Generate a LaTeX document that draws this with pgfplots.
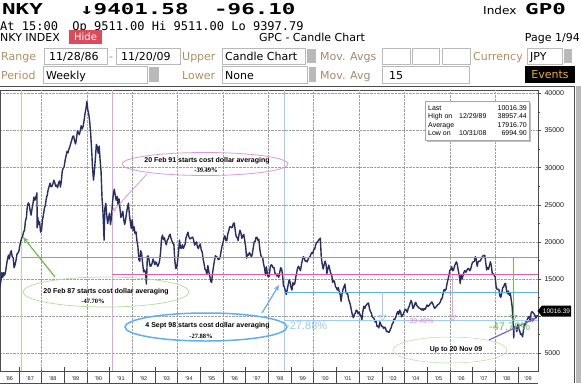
\documentclass[border=0pt]{standalone}
\usepackage{fontspec}
\setmainfont{Liberation Sans}
\newfontfamily\mono{DejaVu Sans Mono}
\newfontfamily\dv{DejaVu Sans}
\newfontfamily\lserif{Liberation Serif}
\usepackage{graphicx}
\usepackage{pgfplots}
\usepackage{pgfplotstable}
\pgfplotsset{compat=1.18}
\usetikzlibrary{arrows.meta}

\definecolor{navy}{RGB}{40,45,100}
\definecolor{cgreen}{RGB}{110,190,80}
\definecolor{cgreenl}{RGB}{175,222,155}
\definecolor{cpink}{RGB}{222,95,175}
\definecolor{cpinkl}{RGB}{225,165,220}
\definecolor{cblue}{RGB}{95,175,235}
\definecolor{cbluel}{RGB}{160,205,240}
\definecolor{cpurple}{RGB}{125,95,200}
\definecolor{tanc}{RGB}{180,140,95}
\definecolor{hidered}{RGB}{220,75,90}
\definecolor{evorange}{RGB}{240,170,40}

\pgfplotstableread[row sep=\\]{
m v\\
0 13900\\ 0.5 14700\\ 1 15860\\ 1.5 15200\\ 2 15830\\ 2.5 15500\\ 3 16000\\ 3.5 16900\\ 4 17650\\ 4.5 18200\\ 5 17690\\ 5.5 18500\\ 6 18790\\ 6.5 18000\\ 7 17850\\ 7.5 16500\\ 8 16910\\ 8.5 17500\\ 9 18330\\ 9.5 18500\\ 10 18700\\
10.5 19500\\ 11 20020\\ 11.5 20500\\ 12 20770\\ 12.5 21300\\ 13 21570\\ 13.5 22800\\ 14 23270\\ 14.5 24800\\ 15 25250\\ 15.5 25000\\ 16 24180\\ 16.5 23600\\ 17 24490\\ 17.5 25200\\ 18 26030\\ 18.5 25600\\ 19 26010\\ 19.6 26600\\ 19.7 21900\\ 20 23330\\ 20.5 22300\\ 21 22690\\ 21.5 21300\\ 22 21560\\
22.5 22900\\ 23 23620\\ 23.5 24500\\ 24 24890\\ 24.5 25800\\ 25 26260\\ 25.5 27000\\ 26 27440\\ 26.5 27900\\ 27 27420\\ 27.5 27500\\ 28 27770\\ 28.5 28300\\ 29 28000\\ 29.5 27500\\ 30 27640\\ 30.5 27300\\ 31 27920\\ 31.5 28200\\ 32 27380\\ 32.5 28200\\ 33 29580\\ 33.5 29900\\ 34 30160\\
34.5 31000\\ 35 31580\\ 35.5 32200\\ 36 31990\\ 36.5 32500\\ 37 32840\\ 37.5 33300\\ 38 33710\\ 38.5 34200\\ 39 34270\\ 39.5 33600\\ 40 33180\\ 40.5 33900\\ 41 34950\\ 41.5 34700\\ 42 34430\\ 42.5 35000\\ 43 35640\\ 43.5 35200\\ 44 35550\\ 44.5 36300\\ 45 37270\\ 45.5 37900\\ 46 38920\\
46.5 37800\\ 47 37190\\ 47.5 36200\\ 48 34590\\ 48.5 32500\\ 49 29980\\ 49.5 28300\\ 50 29590\\ 50.5 31200\\ 51 33130\\ 51.5 32800\\ 52 31940\\ 52.5 32900\\ 53 31040\\ 53.5 29500\\ 54 25980\\ 54.5 24000\\ 55 20980\\ 55.1 20220\\ 55.5 24500\\ 56 25190\\ 56.5 23600\\ 57 22450\\ 57.5 23300\\ 58 23850\\
58.5 22300\\ 59 23290\\ 59.5 25100\\ 60 26410\\ 60.5 27100\\ 61 26290\\ 61.5 25600\\ 62 26110\\ 62.5 25000\\ 63 25790\\ 63.5 24500\\ 64 23290\\ 64.5 23600\\ 65 24120\\ 65.5 23000\\ 66 22340\\ 66.5 23000\\ 67 23920\\ 67.5 24700\\ 68 25220\\ 68.5 23600\\ 69 22690\\ 69.5 21800\\ 70 22980\\
70.5 21500\\ 71 22020\\ 71.5 21100\\ 72 21340\\ 72.5 20100\\ 73 19350\\ 73.5 17600\\ 74 17390\\ 74.5 18800\\ 75 18350\\ 75.5 17100\\ 76 15950\\ 76.5 16200\\ 77 15910\\ 77.5 14310\\ 78 18060\\ 78.5 18100\\ 79 17400\\ 79.5 16700\\ 80 16770\\ 80.5 17100\\ 81 17680\\ 81.5 17300\\ 82 16920\\
82.5 17300\\ 83 17020\\ 83.5 16700\\ 84 17000\\ 84.5 17500\\ 85 18600\\ 85.5 20400\\ 86 20920\\ 86.5 20300\\ 87 20550\\ 87.5 20000\\ 88 19590\\ 88.5 20200\\ 89 20380\\ 89.5 20800\\ 90 21030\\ 90.5 20500\\ 91 20100\\ 91.5 19800\\ 92 19700\\ 92.5 17600\\ 93 16410\\ 93.5 16500\\ 94 17420\\
94.5 18600\\ 95 20230\\ 95.5 19200\\ 96 19110\\ 96.5 19600\\ 97 19110\\ 97.5 19400\\ 98 19730\\ 98.5 20600\\ 99 20970\\ 99.5 21300\\ 100 20640\\ 100.5 20400\\ 101 20450\\ 101.5 20600\\ 102 20630\\ 102.5 20200\\ 103 19560\\ 103.5 19800\\ 104 19990\\ 104.5 19300\\ 105 19080\\ 105.5 19500\\ 106 19720\\
106.5 18900\\ 107 18650\\ 107.5 17700\\ 108 17050\\ 108.5 16300\\ 109 16140\\ 109.5 15600\\ 110 16810\\ 110.5 16000\\ 111 15440\\ 111.5 14700\\ 112 14520\\ 112.5 15800\\ 113 16680\\ 113.5 17500\\ 114 18120\\ 114.5 18000\\ 115 17910\\ 115.5 17600\\ 116 17650\\ 116.5 17900\\ 117 18740\\ 117.5 19400\\ 118 19870\\
118.5 20500\\ 119 20810\\ 119.5 20200\\ 120 20130\\ 120.5 21000\\ 121 21410\\ 121.5 22000\\ 122 22040\\ 122.5 21900\\ 123 21960\\ 123.5 22500\\ 124 22530\\ 124.5 21500\\ 125 20690\\ 125.5 20600\\ 126 20170\\ 126.5 21000\\ 127 21560\\ 127.5 21200\\ 128 20470\\ 128.5 20800\\ 129 21020\\ 129.5 20200\\ 130 19360\\
130.5 17800\\ 131 18330\\ 131.5 18200\\ 132 18560\\ 132.5 18300\\ 133 18000\\ 133.5 18300\\ 134 19150\\ 134.5 20000\\ 135 20070\\ 135.5 20600\\ 136 20600\\ 136.5 20200\\ 137 20330\\ 137.5 19000\\ 138 18230\\ 138.5 17900\\ 139 17890\\ 139.5 17000\\ 140 16460\\ 140.5 15500\\ 141 16630\\ 141.5 15600\\ 142 15260\\
142.5 15400\\ 143 16630\\ 143.5 16900\\ 144 16830\\ 144.5 16500\\ 145 16530\\ 145.5 15800\\ 146 15640\\ 146.5 15400\\ 147 15670\\ 147.5 15200\\ 148 15830\\ 148.5 16500\\ 149 16380\\ 149.5 15600\\ 150 14110\\ 150.5 13900\\ 151 13410\\ 151.5 12900\\ 152 13560\\ 152.5 14200\\ 153 14880\\ 153.5 14600\\ 154 13840\\
154.5 13500\\ 155 14500\\ 155.5 14200\\ 156 14370\\ 156.5 15200\\ 157 15840\\ 157.5 16500\\ 158 16700\\ 158.5 16400\\ 159 16110\\ 159.5 16900\\ 160 17530\\ 160.5 18000\\ 161 17860\\ 161.5 17400\\ 162 17440\\ 162.5 17300\\ 163 17610\\ 163.5 17900\\ 164 17940\\ 164.5 18300\\ 165 18560\\ 165.5 18400\\ 166 18930\\
166.5 19000\\ 167 19540\\ 167.5 19900\\ 168 19960\\ 168.5 20200\\ 169 20340\\ 169.5 20500\\ 170 17970\\ 170.5 17000\\ 171 16330\\ 171.5 16900\\ 172 17410\\ 172.5 17000\\ 173 15730\\ 173.5 16400\\ 174 16860\\ 174.5 16300\\ 175 15750\\ 175.5 15600\\ 176 14540\\ 176.5 14800\\ 177 14650\\ 177.5 14000\\ 178 13790\\
178.5 13500\\ 179 13840\\ 179.5 13300\\ 180 12880\\ 180.5 12000\\ 181 12999\\ 181.5 13600\\ 182 13930\\ 182.5 14300\\ 183 13260\\ 183.5 13000\\ 184 12970\\ 184.5 12200\\ 185 11860\\ 185.5 11400\\ 186 10710\\ 186.5 10100\\ 187 9770\\ 187.5 10200\\ 188 10370\\ 188.5 10800\\ 189 10700\\ 189.5 10300\\ 190 10540\\
190.5 10200\\ 191 9990\\ 191.5 9500\\ 192 10590\\ 192.5 11300\\ 193 11020\\ 193.5 11400\\ 194 11490\\ 194.5 11700\\ 195 11760\\ 195.5 11000\\ 196 10620\\ 196.5 10400\\ 197 9880\\ 197.5 9800\\ 198 9620\\ 198.5 9200\\ 199 9380\\ 199.5 8600\\ 200 8640\\ 200.5 8400\\ 201 9220\\ 201.5 8900\\ 202 8580\\
202.5 8600\\ 203 8340\\ 203.5 8500\\ 204 8360\\ 204.5 7900\\ 205 7970\\ 205.5 7800\\ 206 7830\\ 206.5 8200\\ 207 8420\\ 207.5 8900\\ 208 9080\\ 208.5 9600\\ 209 9560\\ 209.5 9900\\ 210 10340\\ 210.5 10600\\ 211 10220\\ 211.5 10800\\ 212 10560\\ 212.5 9900\\ 213 10100\\ 213.5 10300\\ 214 10680\\
214.5 10900\\ 215 10780\\ 215.5 10500\\ 216 11040\\ 216.5 11300\\ 217 11720\\ 217.5 12100\\ 218 11760\\ 218.5 11000\\ 219 11240\\ 219.5 11600\\ 220 11860\\ 220.5 11400\\ 221 11330\\ 221.5 11100\\ 222 11080\\ 222.5 10950\\ 223 10820\\ 223.5 11000\\ 224 10770\\ 224.5 11000\\ 225 10900\\ 225.5 11200\\ 226 11490\\
226.5 11300\\ 227 11390\\ 227.5 11600\\ 228 11740\\ 228.5 11900\\ 229 11670\\ 229.5 11300\\ 230 11010\\ 230.5 11200\\ 231 11280\\ 231.5 11500\\ 232 11580\\ 232.5 11700\\ 233 11900\\ 233.5 12300\\ 234 12410\\ 234.5 13100\\ 235 13570\\ 235.5 13400\\ 236 13610\\ 236.5 14300\\ 237 14870\\ 237.5 15400\\ 238 16110\\
238.5 16300\\ 239 16650\\ 239.5 16100\\ 240 16200\\ 240.5 16700\\ 241 17060\\ 241.5 17300\\ 242 16910\\ 242.5 16100\\ 243 15470\\ 243.5 14400\\ 244 15500\\ 244.5 15000\\ 245 15460\\ 245.5 15900\\ 246 16140\\ 246.5 15900\\ 247 16130\\ 247.5 16400\\ 248 16400\\ 248.5 16100\\ 249 16270\\ 249.5 16800\\ 250 17230\\
250.5 17300\\ 251 17380\\ 251.5 18000\\ 252 17600\\ 252.5 16700\\ 253 17290\\ 253.5 17400\\ 254 17400\\ 254.5 17600\\ 255 17880\\ 255.5 18100\\ 256 18140\\ 256.5 18200\\ 257 17250\\ 257.5 16200\\ 258 16570\\ 258.5 16300\\ 259 16790\\ 259.5 17300\\ 260 16740\\ 260.5 15700\\ 261 15680\\ 261.5 15500\\ 262 15310\\
262.5 14000\\ 263 13590\\ 263.5 13600\\ 264 13600\\ 264.5 12700\\ 265 12530\\ 265.5 13100\\ 266 13850\\ 266.5 13900\\ 267 14340\\ 267.5 14400\\ 268 13480\\ 268.5 13000\\ 269 13380\\ 269.5 12800\\ 270 13070\\ 270.5 12200\\ 271 11260\\ 271.5 9200\\ 271.7 8300\\ 271.85 7050\\ 272 8580\\ 272.5 8400\\ 273 8510\\ 273.5 7900\\ 274 8860\\
274.5 8300\\ 275 7990\\ 275.5 7500\\ 276 7570\\ 276.5 7200\\ 277 8110\\ 277.5 8800\\ 278 8830\\ 278.5 9300\\ 279 9520\\ 279.5 9800\\ 280 9960\\ 280.5 9300\\ 281 10360\\ 281.5 10600\\ 282 10490\\ 282.5 10300\\ 283 10130\\ 283.5 9700\\ 284 10030\\ 284.67 10016\\
}\nky

\begin{document}
\begin{tikzpicture}[x=1bp,y=1bp]
\path[use as bounding box] (0,0) rectangle (581,383);

% ---------- header ----------
\node[anchor=base west,inner sep=0] at (2,369) {\scalebox{1.5}[1]{\fontsize{15bp}{15bp}\mono\bfseries NKY}};
\node[anchor=base west,inner sep=0] at (80,369) {\scalebox{1.5}[1]{\fontsize{15bp}{15bp}\mono\bfseries ↓9401.58}};
\node[anchor=base west,inner sep=0] at (214,369) {\scalebox{1.5}[1]{\fontsize{15bp}{15bp}\mono\bfseries -96.10}};
\node[anchor=base west,inner sep=0] at (483,369) {\scalebox{1.1}[1]{\fontsize{11bp}{11bp}\dv Index}};
\node[anchor=base west,inner sep=0] at (525,369) {\scalebox{1.5}[1]{\fontsize{15bp}{15bp}\mono\bfseries GP0}};
\node[anchor=base west,inner sep=0] at (0,353) {\fontsize{12bp}{12bp}\mono At 15:00\ \ Op 9511.00 Hi 9511.00 Lo 9397.79};

\node[anchor=base west,inner sep=0] at (0,342) {\fontsize{11bp}{11bp}\dv NKY INDEX};
\fill[hidered] (69,339) rectangle (102,353);
\node[inner sep=0,text=white] at (85.5,346) {\fontsize{10bp}{10bp}\dv Hide};
\node[anchor=base west,inner sep=0] at (259,342) {\fontsize{11bp}{11bp}\dv GPC - Candle Chart};
\node[anchor=base east,inner sep=0] at (580,342) {\fontsize{11bp}{11bp}\dv Page 1/94};

\begin{scope}[every node/.style={anchor=base west,inner sep=0,font=\fontsize{11bp}{11bp}\dv}]
\node[text=tanc] at (1,323) {Range};
\draw[gray!55,fill=white] (44,319) rectangle (107,335);
\node at (49,323) {11/28/86};
\node[text=tanc] at (109,323) {-};
\draw[gray!55,fill=white] (116,319) rectangle (180,335);
\node at (121,323) {11/20/09};
\node[text=tanc] at (182,323) {Upper};
\draw[gray!55,fill=white] (222,319) rectangle (305,335);
\node at (225,323) {Candle Chart};
\fill[gray!55] (307,320) rectangle (316,334);
\node[text=tanc!70!gray] at (320,323) {Mov. Avgs};
\draw[gray!55,fill=white] (382,319) rectangle (410,335);
\draw[gray!55,fill=white] (412,319) rectangle (439,335);
\draw[gray!55,fill=white] (442,319) rectangle (470,335);
\node[text=tanc] at (473,323) {Currency};
\draw[gray!55,fill=white] (527,319) rectangle (562,335);
\node at (530,323) {JPY};
\fill[gray!55] (564,320) rectangle (572,334);

\node[text=tanc] at (1,304) {Period};
\draw[gray!55,fill=white] (43,300) rectangle (147,317);
\node at (46,304) {Weekly};
\fill[gray!55] (149,301) rectangle (159,316);
\node[text=tanc] at (182,304) {Lower};
\draw[gray!55,fill=white] (222,300) rectangle (307,317);
\node at (225,304) {None};
\fill[gray!55] (309,301) rectangle (316,316);
\node[text=tanc!70!gray] at (320,304) {Mov. Avg};
\draw[gray!55,fill=white] (382,300) rectangle (469,317);
\node at (389,304) {15};
\fill[black] (525,300) rectangle (575,317);
\node[text=evorange,anchor=center] at (550,308.5) {Events};
\end{scope}

% ---------- frame right and date strip ----------
\fill[gray!55] (576,0) rectangle (581,297);
\draw[gray!60!black,line width=0.5pt] (0,297) -- (574,297);
\draw[gray!60!black,line width=0.5pt] (574,0) -- (574,297);
\draw[gray!60!black,line width=0.4pt] (0,0.3) -- (538,0.3);
\foreach \i in {0,...,22} {\draw[gray!55!black,line width=0.4pt] ({18.83+\i*22.681},0) -- ++(0,16);}

% ---------- chart ----------
\begin{axis}[
  at={(0,16)}, anchor=south west,
  width=538bp, height=281bp, scale only axis,
  xmin=1986.17, xmax=2009.89,
  ymin=2574, ymax=40444,
  axis line style={draw=gray!60!black, line width=0.5pt},
  tick align=outside,
  xtick pos=left, ytick pos=right, yticklabel pos=right,
  major tick length=3bp,
  scaled y ticks=false,
  xtick={1986.58,1987.5,1988.5,1989.5,1990.5,1991.5,1992.5,1993.5,1994.5,1995.5,1996.5,1997.5,1998.5,1999.5,2000.5,2001.5,2002.5,2003.5,2004.5,2005.5,2006.5,2007.5,2008.5,2009.45},
  xticklabels={'86,'87,'88,'89,'90,'91,'92,'93,'94,'95,'96,'97,'98,'99,'00,'01,'02,'03,'04,'05,'06,'07,'08,'09},
  xtick style={draw=none},
  xticklabel style={font=\fontsize{5.5bp}{6bp}\selectfont, text=gray!25!black, anchor=center, yshift=-4bp},
  ytick={5000,10000,15000,20000,25000,30000,35000,40000},
  yticklabels={5000,,15000,20000,25000,30000,35000,40000},
  ytick style={draw=gray!60!black, line width=0.4pt},
  yticklabel style={font=\fontsize{7bp}{8bp}\selectfont, text=gray!20!black},
  extra y ticks={7500,12500,17500,22500,27500,32500,37500},
  extra y tick labels={},
  extra y tick style={grid=none, major tick length=2bp},
  ymajorgrids=true,
  major grid style={densely dotted, gray!75, line width=0.4pt},
  /pgf/number format/1000 sep={},
  /pgf/number format/assume math mode=true,
]
\pgfplotsinvokeforeach{1988,1990,1992,1994,1996,1998,2000,2002,2004,2006,2008}{
  \draw[densely dotted, gray!75, line width=0.4pt] (axis cs:#1,2574) -- (axis cs:#1,40444);
}
% start verticals
\addplot[cgreenl, line width=0.6pt] coordinates {(1987.13,2574) (1987.13,40444)};
\addplot[cpinkl, line width=0.6pt] coordinates {(1991.10,2574) (1991.10,40444)};
\addplot[cbluel, line width=0.6pt] coordinates {(1998.70,2574) (1998.70,40444)};
% index
\addplot[navy, line width=1.4pt, line join=round] table[x expr={1986.167+\thisrow{m}/12}, y=v] {\nky};
% cost-averaging levels
\addplot[cgreen, line width=1.1pt] coordinates {(1987.13,17900) (2009.89,17900)};
\addplot[cpink, line width=1.0pt] coordinates {(1991.10,15550) (2009.89,15550)};
\addplot[cblue, line width=1.4pt] coordinates {(1998.70,13180) (2009.89,13180)};
\addplot[cbluel, line width=1.0pt] coordinates {(1998.70,9380) (2009.89,9380)};
% drops
\addplot[cbluel, line width=0.8pt] coordinates {(2003.04,13180) (2003.04,10100)};
\addplot[cpinkl, line width=0.8pt] coordinates {(2006.13,15550) (2006.13,10100)};
\addplot[cgreen, line width=0.8pt] coordinates {(2008.81,17900) (2008.81,10100)};
\addplot[only marks, mark=triangle, mark size=3.6bp, mark options={rotate=180, draw=cbluel, fill=white, line width=0.7pt}] coordinates {(2003.04,9850)};
\addplot[only marks, mark=triangle, mark size=3.6bp, mark options={rotate=180, draw=cpinkl, fill=white, line width=0.7pt}] coordinates {(2006.13,9850)};
\addplot[only marks, mark=triangle, mark size=3.6bp, mark options={rotate=180, draw=cgreen, fill=white, line width=0.7pt}] coordinates {(2008.81,9850)};
\end{axis}

% ---------- info box ----------
\fill[gray!50] (426.5,241.5) rectangle (530.5,280.5);
\draw[gray!70, fill=white, line width=0.5pt] (425,243) rectangle (529,282);
\begin{scope}[every node/.style={inner sep=0,font=\fontsize{7bp}{8bp}\selectfont}]
\node[anchor=base west] at (428,273) {Last};
\node[anchor=base east] at (527,273) {10016.39};
\node[anchor=base west] at (428,264.5) {High on};
\node[anchor=base west] at (459,264.5) {12/29/89};
\node[anchor=base east] at (527,264.5) {38957.44};
\node[anchor=base west] at (428,256) {Average};
\node[anchor=base east] at (527,256) {17916.70};
\node[anchor=base west] at (428,247.5) {Low on};
\node[anchor=base west] at (459,247.5) {10/31/08};
\node[anchor=base east] at (527,247.5) {6994.90};
\end{scope}

% ---------- last value tag ----------
\fill[black] (537.5,72) -- (542,77.5) -- (571,77.5) -- (571,66.5) -- (542,66.5) -- cycle;
\node[inner sep=0,text=white] at (556.5,72) {\fontsize{6.5bp}{7bp}\selectfont 10016.39};

% ---------- annotations ----------
\draw[cpinkl!80!cpink, line width=0.8pt] (205,219) ellipse [x radius=83, y radius=11.5];
\node[inner sep=0] at (207,222) {\fontsize{7bp}{8bp}\selectfont\bfseries 20 Feb 91 starts cost dollar averaging};
\node[inner sep=0] at (206,212.5) {\fontsize{6.5bp}{7bp}\lserif\bfseries -39.49\%};
\draw[cpinkl!80!cpink, line width=0.8pt, -{Stealth[length=5bp,width=4bp]}] (147,209) -- (112,171);

\draw[cgreenl, line width=0.7pt] (106,91) ellipse [x radius=83, y radius=15];
\node[inner sep=0] at (106,91) {\fontsize{7bp}{8bp}\selectfont\bfseries 20 Feb 87 starts cost dollar averaging};
\node[inner sep=0] at (93,81.5) {\fontsize{6.5bp}{7bp}\lserif\bfseries -47.70\%};
\draw[cgreen, line width=1.2pt, -{Stealth[length=6bp,width=5bp]}] (55,106) -- (23,146);

\draw[cblue, line width=1.5pt] (206,56) ellipse [x radius=81, y radius=14];
\node[inner sep=0] at (207.5,57) {\fontsize{7bp}{8bp}\selectfont\bfseries 4 Sept 98 starts cost dollar averaging};
\node[inner sep=0] at (201,47) {\fontsize{6.5bp}{7bp}\lserif\bfseries -27.88\%};
\draw[cblue, line width=1.2pt, -{Stealth[length=6bp,width=5bp]}] (262,70) -- (279,98);

\draw[cgreenl, line width=0.5pt] (450,33) ellipse [x radius=57, y radius=13];
\node[inner sep=0] at (456,33) {\fontsize{7bp}{8bp}\selectfont\bfseries Up to 20 Nov 09};
\draw[cpurple, line width=1.2pt, -{Stealth[length=6bp,width=5bp]}] (489,43) -- (536,65);

\node[anchor=west, inner sep=0, text=cbluel!85!cblue] at (286,57) {\fontsize{11bp}{12bp}\selectfont -27.88\%};
\node[anchor=west, inner sep=0, text=cpink!80] at (407,62) {\fontsize{7bp}{8bp}\selectfont -39.49\%};
\node[anchor=west, inner sep=0, text=cgreen] at (489,56) {\fontsize{11bp}{12bp}\selectfont -47.70\%};
\end{tikzpicture}
\end{document}
